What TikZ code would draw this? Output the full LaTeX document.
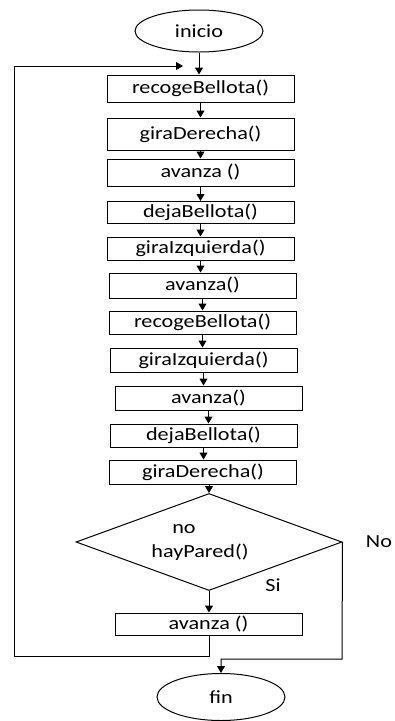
\documentclass[tikz,border=0pt]{standalone}
\usepackage{fontspec}
\setmainfont{Carlito}[FakeStretch=1.2]
\usetikzlibrary{shapes.geometric}
\usetikzlibrary{arrows.meta}

\begin{document}
\begin{tikzpicture}[x=1pt,y=-1pt,line width=1pt,
    >={Triangle[length=7pt,width=8pt]},
    font=\fontsize{18.5}{24}\selectfont,
    paso/.style={draw,rectangle,inner sep=0pt,minimum width=187pt},
    extremo/.style={draw,ellipse,inner sep=0pt,minimum width=128pt},
    decision/.style={draw,diamond,inner sep=0pt,shape aspect=2.75,
        minimum width=266pt,minimum height=97pt,align=center}]

        \useasboundingbox (0,0) rectangle (395,721);

        \node[extremo,minimum height=42pt] (inicio) at (199,31) {inicio};
        \foreach \n/\x/\y/\h/\A in {
        1/200.5/88.5/27/recogeBellota(),
        2/200.5/134/32/giraDerecha(),
        3/200.5/172.5/27/avanza (),
        4/200.5/212.5/22/dejaBellota(),
        5/200.5/248.5/23/giraIzquierda(),
        6/202.5/285.5/25/avanza(),
        7/202.5/322.5/23/recogeBellota(),
        8/203.5/360/24/giraIzquierda(),
        9/208.5/398/24/avanza(),
        10/203.5/435.5/23/dejaBellota(),
        11/203/472/24/giraDerecha(),
        12/208.5/624/22/avanza ()} {
        \node[paso,minimum height=\h pt] (p\n) at (\x,\y) {\A};
        }
        \node[decision] (cond) at (209,542)
            {no\hspace*{50pt}\\hayPared()\hspace*{18pt}};
        \node[extremo,minimum height=47pt] (fin) at (221,697) {fin};

        \node (si) at (273,585) {Si};
        \node (no) at (379,542) {No};

        \coordinate (entrada) at (183,66) {};
        \coordinate (esqA) at (14,656) {};
        \coordinate (esqB) at (14,66) {};
        \coordinate (esqC) at (342,659) {};

        \draw[->] (inicio) -- (inicio |- p1.north);
        \foreach \a/\b in {1/2,2/3,3/4,4/5,5/6,6/7,7/8,8/9,9/10,10/11} {
        \draw[->] (p\a) -- (p\a |- p\b.north);
        }
        \draw[->] (p11.south -| cond.north) -- (cond.north);
        \draw[->] (cond.south) -- (cond.south |- p12.north);
        \draw[->] (p12.south -| cond.south) |- (esqA) -- (esqB) -- (entrada);
        \draw[->] (cond.east) -- (esqC) -| (fin.north);
    \end{tikzpicture}
\end{document}
